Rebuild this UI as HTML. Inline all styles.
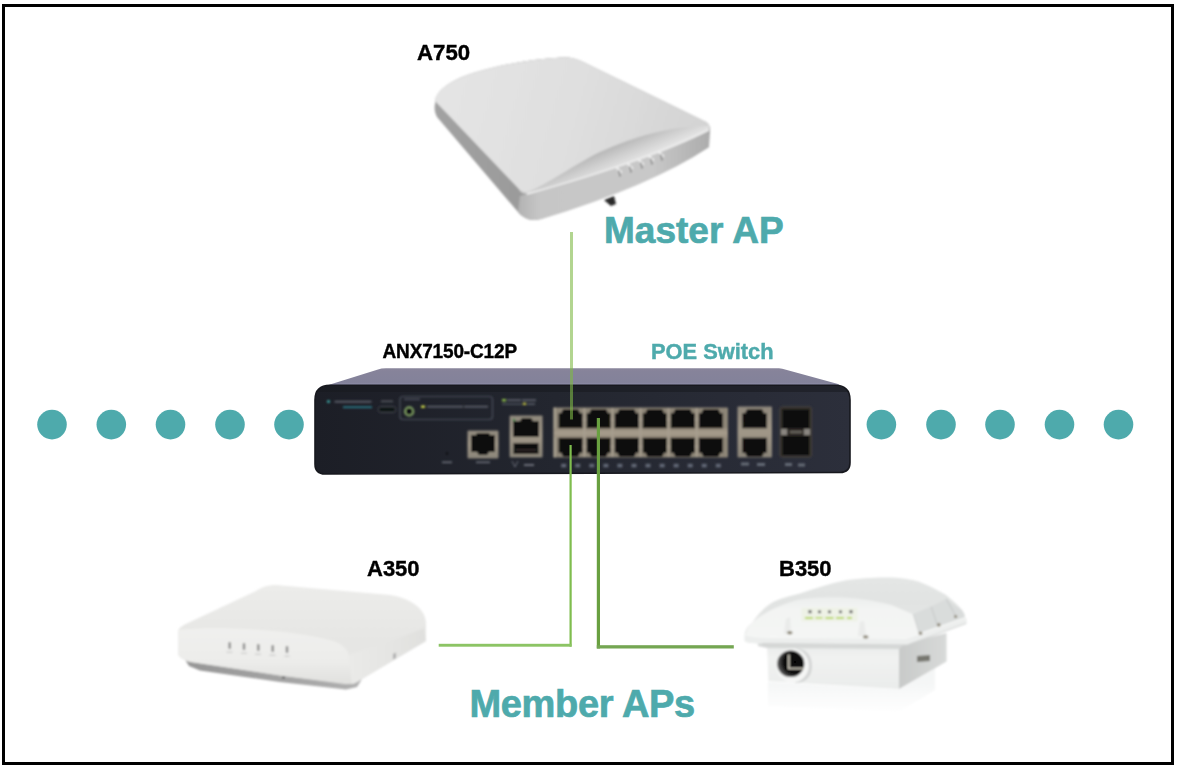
<!DOCTYPE html>
<html><head><meta charset="utf-8">
<style>
html,body{margin:0;padding:0;background:#fff;}
body{width:1180px;height:772px;position:relative;overflow:hidden;font-family:"Liberation Sans",sans-serif;}
#frame{position:absolute;left:2px;top:4px;width:1166px;height:755px;border:3px solid #000;}
svg{position:absolute;left:0;top:0;}
.lbl{position:absolute;font-weight:bold;white-space:nowrap;line-height:1;transform-origin:0 0;-webkit-text-stroke:0.4px #000;}
</style></head>
<body>
<div id="frame"></div>
<svg width="1180" height="772" viewBox="0 0 1180 772">
<defs>
  <linearGradient id="swTop" x1="0" y1="368" x2="0" y2="386" gradientUnits="userSpaceOnUse">
    <stop offset="0" stop-color="#8a869c"/><stop offset="0.2" stop-color="#86839a"/><stop offset="0.8" stop-color="#83829a"/><stop offset="0.92" stop-color="#8e8eaa"/><stop offset="1" stop-color="#4a4a5c"/>
  </linearGradient>
  <linearGradient id="swFront" x1="0" y1="0" x2="1" y2="0">
    <stop offset="0" stop-color="#1c1e26"/><stop offset="0.45" stop-color="#23262f"/><stop offset="1" stop-color="#2c2f3b"/>
  </linearGradient>
  <linearGradient id="silver" x1="0" y1="0" x2="0" y2="1">
    <stop offset="0" stop-color="#8f887c"/><stop offset="0.5" stop-color="#a09788"/><stop offset="1" stop-color="#8a8478"/>
  </linearGradient>
  <filter id="soft" x="-5%" y="-5%" width="110%" height="110%"><feGaussianBlur stdDeviation="0.85"/></filter>
  <linearGradient id="a7top" x1="450" y1="80" x2="700" y2="150" gradientUnits="userSpaceOnUse">
    <stop offset="0" stop-color="#e4e4e4"/><stop offset="0.5" stop-color="#dfdfdf"/><stop offset="1" stop-color="#d3d3d3"/>
  </linearGradient>
  <linearGradient id="a7side" x1="435" y1="0" x2="530" y2="0" gradientUnits="userSpaceOnUse">
    <stop offset="0" stop-color="#a2a2a2"/><stop offset="1" stop-color="#9a9a9a"/>
  </linearGradient>
  <linearGradient id="a7front" x1="520" y1="0" x2="710" y2="0" gradientUnits="userSpaceOnUse">
    <stop offset="0" stop-color="#b4b4b4"/><stop offset="0.1" stop-color="#c6c6c6"/><stop offset="0.7" stop-color="#c8c8c8"/><stop offset="1" stop-color="#acacac"/>
  </linearGradient>
  <linearGradient id="a7lip" x1="600" y1="148" x2="612" y2="176" gradientUnits="userSpaceOnUse">
    <stop offset="0" stop-color="#b0b0b0"/><stop offset="0.45" stop-color="#cdcdcd"/><stop offset="1" stop-color="#ededed"/>
  </linearGradient>
  <linearGradient id="a3base" x1="180" y1="0" x2="360" y2="0" gradientUnits="userSpaceOnUse">
    <stop offset="0" stop-color="#959595"/><stop offset="0.6" stop-color="#a4a4a4"/><stop offset="1" stop-color="#b0b0b0"/>
  </linearGradient>
  <linearGradient id="a3top" x1="0" y1="585" x2="0" y2="640" gradientUnits="userSpaceOnUse">
    <stop offset="0" stop-color="#ececea"/><stop offset="1" stop-color="#e6e6e4"/>
  </linearGradient>
  <linearGradient id="a3front" x1="0" y1="628" x2="0" y2="684" gradientUnits="userSpaceOnUse">
    <stop offset="0" stop-color="#f0f0ee"/><stop offset="0.6" stop-color="#ececea"/><stop offset="1" stop-color="#e0e0de"/>
  </linearGradient>
  <linearGradient id="a3right" x1="349" y1="0" x2="426" y2="0" gradientUnits="userSpaceOnUse">
    <stop offset="0" stop-color="#eaeae8"/><stop offset="1" stop-color="#e0e0de"/>
  </linearGradient>
  <linearGradient id="b3right" x1="899" y1="0" x2="947" y2="0" gradientUnits="userSpaceOnUse">
    <stop offset="0" stop-color="#c8cac9"/><stop offset="1" stop-color="#d8dad9"/>
  </linearGradient>
  <linearGradient id="b3dome" x1="0" y1="578" x2="0" y2="640" gradientUnits="userSpaceOnUse">
    <stop offset="0" stop-color="#e4e6e5"/><stop offset="0.4" stop-color="#e1e3e2"/><stop offset="1" stop-color="#e6e8e7"/>
  </linearGradient>
  <linearGradient id="b3front" x1="0" y1="645" x2="0" y2="688" gradientUnits="userSpaceOnUse">
    <stop offset="0" stop-color="#e9ebea"/><stop offset="0.3" stop-color="#f1f2f1"/><stop offset="1" stop-color="#eaeceb"/>
  </linearGradient>
  <radialGradient id="b3hole" cx="0.65" cy="0.45" r="0.6">
    <stop offset="0" stop-color="#050505"/><stop offset="0.7" stop-color="#101010"/><stop offset="1" stop-color="#555"/>
  </radialGradient>
  <linearGradient id="b3refl" x1="0" y1="682" x2="0" y2="714" gradientUnits="userSpaceOnUse">
    <stop offset="0" stop-color="#eef0f0"/><stop offset="1" stop-color="#ffffff"/>
  </linearGradient>
  <linearGradient id="b3bulge" x1="0" y1="597" x2="0" y2="637" gradientUnits="userSpaceOnUse">
    <stop offset="0" stop-color="#eceeed"/><stop offset="0.3" stop-color="#f3f4f3"/><stop offset="1" stop-color="#f4f5f4"/>
  </linearGradient>
</defs>
<!-- dots -->
<g fill="#4eaaac">
  <circle cx="52" cy="424.6" r="14.8"/><circle cx="111.3" cy="424.6" r="14.8"/><circle cx="170.5" cy="424.6" r="14.8"/><circle cx="230" cy="424.6" r="14.8"/><circle cx="289" cy="424.6" r="14.8"/>
  <circle cx="881.4" cy="424.6" r="14.8"/><circle cx="941" cy="424.6" r="14.8"/><circle cx="1000" cy="424.6" r="14.8"/><circle cx="1059.5" cy="424.6" r="14.8"/><circle cx="1118.5" cy="424.6" r="14.8"/>
</g>
<!-- switch -->
<g id="switchbase">
<path d="M386 368.3 L779 368.3 Q782 368.3 786 369.8 L838 384 L842 386.5 L326 386.5 L330 384.5 L378 369.6 Q381 368.3 386 368.3 Z" fill="url(#swTop)"/>
<path d="M330 385.3 L835 385.3 Q850 385.3 850 400 L850 462.5 Q850 472.5 840 472.5 L325 474 Q315 474 315 464 L315 400 Q315 385.3 330 385.3 Z" fill="url(#swFront)" stroke="#17181e" stroke-width="1.6"/>
<path d="M330 386 L835 386 Q846 386 848.5 392 L316.5 392 Q319 386 330 386 Z" fill="#18191f" opacity="0.55"/>
</g>
<g id="switch" filter="url(#soft)">
<circle cx="328.5" cy="401.5" r="1.6" fill="#3aa0a0"/>
<rect x="334.5" y="400.8" width="37" height="1.8" fill="#5d616c"/>
<rect x="343" y="406.3" width="29" height="1.8" fill="#2a7785"/>
<rect x="378" y="406.5" width="18" height="6" rx="3" fill="#111216" stroke="#44474f" stroke-width="1"/>
<rect x="381" y="400.5" width="12" height="1.6" fill="#55585f"/>
<rect x="400" y="396.5" width="92.5" height="23" rx="3" fill="none" stroke="#4a4e5a" stroke-width="1.2"/>
<rect x="404" y="398.5" width="16" height="1.6" fill="#4a4e5a"/>
<circle cx="409.2" cy="411.4" r="4.2" fill="#101114" stroke="#86a868" stroke-width="1.8"/>
<rect x="421" y="405.5" width="4" height="2.4" fill="#c8d24a"/>
<rect x="427" y="405.8" width="36" height="1.8" fill="#5b5f69"/>
<rect x="464" y="405.8" width="24" height="1.8" fill="#5b5f69"/>
<rect x="502" y="399" width="4" height="2.4" fill="#8ab84a"/><rect x="507" y="399.3" width="14" height="1.8" fill="#5b5f69"/><rect x="522" y="399.3" width="14" height="1.8" fill="#5b5f69"/>
<rect x="502" y="403.3" width="20" height="1.6" fill="#4b4f59"/><rect x="523" y="402.8" width="3" height="2.2" fill="#c8c84a"/><rect x="527" y="403.3" width="8" height="1.6" fill="#5b5f69"/>
<circle cx="447" cy="453.5" r="1" fill="#0c0d10"/>
<rect x="442" y="461.5" width="10" height="1.6" fill="#6a6e78"/>
<rect x="476" y="461.5" width="14" height="1.6" fill="#6a6e78"/>
<rect x="467.5" y="430.4" width="31" height="28" rx="1" fill="url(#silver)"/>
<g fill="#08080a"><path d="M471 435 L476 435 L477 433 L489 433 L490 435 L495 435 L495 452 L489 452 L487 455 L479 455 L477 452 L471 452 Z"/></g>
<rect x="509.6" y="415.5" width="33" height="42" rx="1" fill="url(#silver)"/>
<path d="M513 421 L520 421 L522 418 L531 418 L533 421 L539 421 L539 437 L513 437 Z" fill="#08080a"/>
<rect x="513.5" y="443" width="25" height="11" fill="#08080a"/>
<rect x="516" y="449" width="20" height="2" fill="#2a2825"/>
<circle cx="514" cy="420" r="1.2" fill="#3a8a4a"/>
<path d="M512 461 L515 467 L518 461" stroke="#6a6e78" stroke-width="1" fill="none"/>
<rect x="524" y="464" width="10" height="2" fill="#6a6e78"/>
<rect x="553.5" y="407.5" width="174.5" height="50" rx="1" fill="#8d8577"/>
<rect x="553.5" y="407.5" width="2.2" height="50" fill="#aaa292"/>
<rect x="554" y="428.3" width="173.5" height="9.4" fill="#9d9383"/>
<rect x="554" y="431.5" width="173.5" height="3" fill="#a89e8e" opacity="0.7"/>
<g fill="#070709">
<path d="M558.6 413.3 L561.1 413.3 L563.1 409.3 L578.1 409.3 L580.1 413.3 L582.6 413.3 L582.6 428.3 L558.6 428.3 Z"/>
<path d="M558.6 437.8 L582.6 437.8 L582.6 452.8 L580.1 452.8 L578.1 456.8 L563.1 456.8 L561.1 452.8 L558.6 452.8 Z"/>
<path d="M586.65 413.3 L589.15 413.3 L591.15 409.3 L606.15 409.3 L608.15 413.3 L610.65 413.3 L610.65 428.3 L586.65 428.3 Z"/>
<path d="M586.65 437.8 L610.65 437.8 L610.65 452.8 L608.15 452.8 L606.15 456.8 L591.15 456.8 L589.15 452.8 L586.65 452.8 Z"/>
<path d="M614.7 413.3 L617.2 413.3 L619.2 409.3 L634.2 409.3 L636.2 413.3 L638.7 413.3 L638.7 428.3 L614.7 428.3 Z"/>
<path d="M614.7 437.8 L638.7 437.8 L638.7 452.8 L636.2 452.8 L634.2 456.8 L619.2 456.8 L617.2 452.8 L614.7 452.8 Z"/>
<path d="M642.75 413.3 L645.25 413.3 L647.25 409.3 L662.25 409.3 L664.25 413.3 L666.75 413.3 L666.75 428.3 L642.75 428.3 Z"/>
<path d="M642.75 437.8 L666.75 437.8 L666.75 452.8 L664.25 452.8 L662.25 456.8 L647.25 456.8 L645.25 452.8 L642.75 452.8 Z"/>
<path d="M670.8000000000001 413.3 L673.3000000000001 413.3 L675.3000000000001 409.3 L690.3000000000001 409.3 L692.3000000000001 413.3 L694.8000000000001 413.3 L694.8000000000001 428.3 L670.8000000000001 428.3 Z"/>
<path d="M670.8000000000001 437.8 L694.8000000000001 437.8 L694.8000000000001 452.8 L692.3000000000001 452.8 L690.3000000000001 456.8 L675.3000000000001 456.8 L673.3000000000001 452.8 L670.8000000000001 452.8 Z"/>
<path d="M698.85 413.3 L701.35 413.3 L703.35 409.3 L718.35 409.3 L720.35 413.3 L722.85 413.3 L722.85 428.3 L698.85 428.3 Z"/>
<path d="M698.85 437.8 L722.85 437.8 L722.85 452.8 L720.35 452.8 L718.35 456.8 L703.35 456.8 L701.35 452.8 L698.85 452.8 Z"/>
</g>
<g fill="#a89f90">
<rect x="583.4" y="408" width="2" height="49"/>
<circle cx="584.4" cy="419.5" r="1.6"/>
<circle cx="584.4" cy="446.5" r="1.6"/>
<rect x="611.4" y="408" width="2" height="49"/>
<circle cx="612.4" cy="419.5" r="1.6"/>
<circle cx="612.4" cy="446.5" r="1.6"/>
<rect x="639.5" y="408" width="2" height="49"/>
<circle cx="640.5" cy="419.5" r="1.6"/>
<circle cx="640.5" cy="446.5" r="1.6"/>
<rect x="667.5" y="408" width="2" height="49"/>
<circle cx="668.5" cy="419.5" r="1.6"/>
<circle cx="668.5" cy="446.5" r="1.6"/>
<rect x="695.6" y="408" width="2" height="49"/>
<circle cx="696.6" cy="419.5" r="1.6"/>
<circle cx="696.6" cy="446.5" r="1.6"/>
</g>
<g fill="#626876">
<rect x="561.2" y="463.8" width="5" height="3.6" />
<rect x="575.2" y="463.8" width="5" height="3.6" />
<rect x="589.3" y="463.8" width="5" height="3.6" />
<rect x="603.4" y="463.8" width="5" height="3.6" />
<rect x="617.4" y="463.8" width="5" height="3.6" />
<rect x="631.5" y="463.8" width="5" height="3.6" />
<rect x="645.5" y="463.8" width="5" height="3.6" />
<rect x="659.6" y="463.8" width="5" height="3.6" />
<rect x="673.6" y="463.8" width="5" height="3.6" />
<rect x="687.7" y="463.8" width="5" height="3.6" />
<rect x="701.7" y="463.8" width="5" height="3.6" />
<rect x="715.8" y="463.8" width="5" height="3.6" />
</g>
<rect x="737.5" y="406.5" width="34.5" height="51" rx="1" fill="url(#silver)"/>
<g fill="#08080a"><path d="M742.3 413.3 L745.05 413.3 L747.05 409.3 L762.05 409.3 L764.05 413.3 L766.8 413.3 L766.8 428.3 L742.3 428.3 Z"/><path d="M742.3 437.8 L766.8 437.8 L766.8 452.8 L764.05 452.8 L762.05 456.8 L747.05 456.8 L745.05 452.8 L742.3 452.8 Z"/></g>
<rect x="741" y="462.5" width="8" height="3" fill="#656a76"/><rect x="757" y="463" width="8" height="3" fill="#656a76"/>
<rect x="780" y="407" width="31.5" height="50" rx="1.5" fill="#2e2b28" stroke="#4a4640" stroke-width="1"/>
<rect x="782.5" y="409.5" width="26.5" height="19" fill="#0e0c0b"/>
<rect x="782.5" y="436" width="26.5" height="19" fill="#0e0c0b"/>
<rect x="781" y="429" width="6" height="6" fill="#8a8680"/><rect x="804" y="429" width="6" height="6" fill="#8a8680"/><rect x="790" y="431" width="12" height="2" fill="#6a665f"/>
<rect x="785" y="463" width="7" height="3" fill="#656a76"/><rect x="798" y="463.5" width="7" height="3" fill="#656a76"/>
</g>
<!-- lines -->
<g>
  <rect x="570" y="232" width="3" height="187.5" fill="#7fb946" opacity="0.6"/>
  <rect x="569.5" y="445" width="2.2" height="201.7" fill="#7fbd4e"/>
  <rect x="438.7" y="643.8" width="132.8" height="2.9" fill="#8cc464"/>
  <rect x="596.8" y="418" width="3.2" height="230.5" fill="#69a040"/>
  <rect x="596.8" y="645.2" width="137" height="3.3" fill="#74a652"/>
</g>
<!-- A750 -->
<g id="a750" filter="url(#soft)">
  <path d="M435 104 C436 92 446 84 462 77 C492 66 530 59 562 57.5 C571 57 577 59 583 62 L704 121 C709 123 710 126 710 130 L709 147 Q650 186 541 219 C531 222 523 218 518 212 L437 117 C435 113 434 109 435 104 Z" fill="url(#a7side)"/>
  <path d="M527 194 Q650 160 709 130 L709 147 Q650 186 541 219 C531 222 523 218 518 212 L520 196 Z" fill="url(#a7front)"/>
  <path d="M435 101 C436 92 446 84 462 77 C492 66 530 59 562 57.5 C571 57 577 59 583 62 L704 121 C709 123 710 126 709 128 L709 130 Q650 160 527 194 C522 194 519 191 519 189 L437 103 Z" fill="url(#a7lip)"/>
  <path d="M435 101 C436 92 446 84 462 77 C492 66 530 59 562 57.5 C571 57 577 59 583 62 L704 121 C709 123 710 126 709 126 C675 125 635 136 600 152 C575 164 548 184 528 192 C524 193 521 191 519 189 L437 103 Z" fill="url(#a7top)"/>
  <path d="M527 194 Q650 160 709 130" stroke="#f6f6f6" stroke-width="1.4" fill="none"/>
  <g stroke="#f2f2f2" stroke-width="2" stroke-linecap="round">
    <path d="M617 168 L621 172"/><path d="M628 164 L632 168"/><path d="M639 160 L643 164"/><path d="M649 156 L653 160"/><path d="M659 152 L663 156"/>
  </g>
  <g stroke="#7a7a7a" stroke-width="1.3" stroke-linecap="round">
    <path d="M619 171 L620 176"/><path d="M630 167 L631 172"/><path d="M641 163 L642 168"/><path d="M651 159 L652 164"/><path d="M661 155 L662 160"/>
  </g>
  <path d="M604 200 L614 196 L616 204 L611 206 Z" fill="#2a2a2a"/>
</g>
<!-- A350 -->
<g id="a350" filter="url(#soft)">
  <path d="M181 653 L189 666 L200 670.5 L280 682 L346 689.5 L357 687 L362 679 L280 670 Z" fill="url(#a3base)"/>
  <path d="M178 632 C178 628 183 625 190 622 L256 591 C262 587 268 585 276 585 L390 595 C405 597 418 604 423 613 C425 617 426 620 426 624 L426 641 L357 682 C353 684 349 684 345 684 L280 675.5 L191 662 C183 660 178 657 178 653 Z" fill="url(#a3top)"/>
  <path d="M178 630 C215 626 290 629 333 641 C342 644 347 649 349 655 L352 684 L280 675.5 L191 662 C183 660 178 657 178 653 Z" fill="url(#a3front)"/>
  <path d="M349 655 C370 648 400 638 424 628 L426 641 L357 682 C355 683 353 684 352 684 Z" fill="url(#a3right)"/>
  <g fill="#8a8a8a">
    <rect x="228.5" y="642" width="2.4" height="7" rx="1"/><rect x="242.8" y="643" width="2.4" height="7" rx="1"/><rect x="257.1" y="644" width="2.4" height="7" rx="1"/><rect x="271.5" y="645" width="2.4" height="7" rx="1"/><rect x="285.8" y="646" width="2.4" height="7" rx="1"/>
  </g>
  <g fill="#d0d0d0">
    <rect x="226.5" y="651.5" width="6" height="1.4"/><rect x="241" y="652.5" width="6" height="1.4"/><rect x="255" y="653.5" width="6" height="1.4"/><rect x="269.5" y="654.5" width="6" height="1.4"/><rect x="284.5" y="655.5" width="5" height="1.4"/>
  </g>
  <circle cx="283.5" cy="677.5" r="1.1" fill="#333"/>
  <path d="M393 654 L396 652.5 L396 658 L393 659.5 Z" fill="#b0b0b0"/>
</g>
<!-- B350 -->
<g id="b350" filter="url(#soft)">
  <path d="M768 682 L899 689.5 L935 668 L935 690 L899 712 L768 706 Z" fill="url(#b3refl)" opacity="0.6"/>
  <!-- box -->
  <path d="M767 645 L899 645 L899 689 L768.5 681 Z" fill="url(#b3front)"/>
  <path d="M899 645 L946.5 633 L946.5 661.5 L899 689 Z" fill="url(#b3right)"/>
  <path d="M758 642 L906.8 642 L899 649 L767 648 L758 646 Z" fill="#d6d8d7"/>
  <path d="M917 656 L930 655 L930 661 L917 662 Z" fill="#77776f"/>
  <!-- connector -->
  <path d="M796 648.5 C808 649 812 657 812 666 C812 676 806 683 795 683 Z" fill="#c9cbca" opacity="0.7"/>
  <ellipse cx="792.4" cy="665.5" rx="16.5" ry="17" fill="#f5f6f5"/>
  <ellipse cx="790.7" cy="663.8" rx="13.6" ry="13.2" fill="url(#b3hole)"/>
  <path d="M788.8 654.5 L788.8 668.5 L803.5 668.5" stroke="#d6d2c4" stroke-width="1.6" fill="none"/>
  <!-- dome + lid -->
  <path d="M744.7 641 L744.7 634 C746 628 749 625 752 623 C758 614 764 608 770 604 C778 599 790 596 800 593.6 C815 588 830 583.7 845 580.5 C860 578 880 577 891.5 577.6 C905 578.5 915 580 922 583 C932 587 940 591.4 946 595 C952 600 958 605 961.7 609.7 C964 613 965 615 964.7 617.3 L966.3 618.8 L966.3 623.4 L906.8 645 L762 643.5 C752 643.5 746 642.5 744.7 641 Z" fill="url(#b3dome)"/>
  <path d="M912.9 614.2 L931.2 606.6 L946.4 599 C952 604 958 608 961.7 609.7 C964 613 965 615 964.7 617.3 L919 634 Z" fill="#d9dcdb"/>
  <path d="M912.9 614.2 L919 634" stroke="#c4c7c6" stroke-width="1.2"/>
  <path d="M931.2 606.6 L937.3 625" stroke="#c8cbca" stroke-width="1.2"/>
  <path d="M946.4 599 L955.6 615.8" stroke="#c8cbca" stroke-width="1.2"/>
  <path d="M745.5 637 C746 629 749 625 753 622 C763 613 783 603 800 599.5 C830 595 862 597 891.5 605 L912.9 614.2 L919 634 L906 638 L770 637 Z" fill="url(#b3bulge)"/>
  <!-- lip -->
  <path d="M744.7 634 C750 636 760 637 770 637 L906 638 L964.7 617.3 L966.3 618.8 L966.3 623.4 L906.8 645 L762 643.5 C752 643.5 746 642.5 744.7 641 Z" fill="#eceeed"/>
  <path d="M745 634.5 C752 636.5 760 637.5 770 637.5 L906 638.5 L965 618" stroke="#f8f9f8" stroke-width="1.2" fill="none"/>
  <path d="M762 643.5 L906.8 645 L966.3 623.4" stroke="#d2d4d3" stroke-width="1" fill="none"/>
  <!-- pillar shadows -->
  <path d="M784 634 L786 619 L790 617 L791 634 Z" fill="#e2e4e3" opacity="0.6"/>
  <path d="M858 636 L860 622 L864 621 L866 636 Z" fill="#e2e4e3" opacity="0.6"/>
  <!-- LED panel -->
  <rect x="801.5" y="607.8" width="56" height="13.6" fill="#eef2e6"/>
  <g fill="#5a5a5a"><rect x="808.5" y="610.2" width="3" height="3"/><rect x="818" y="610.6" width="3" height="2.5"/><rect x="828" y="610.6" width="3" height="2.5"/><rect x="839" y="610.6" width="3" height="2.5"/><rect x="849.5" y="610.2" width="3" height="3"/></g>
  <g fill="#b8d85a"><rect x="805" y="617" width="8" height="2"/><rect x="815.5" y="617" width="7" height="1.6"/><rect x="825.5" y="617" width="8" height="2"/><rect x="836" y="617" width="8" height="2"/><rect x="847" y="617" width="5" height="2"/></g>
  <!-- screws -->
  <g fill="#8e8878"><ellipse cx="789.8" cy="632.7" rx="2.8" ry="1.7"/><ellipse cx="865.7" cy="636.9" rx="2.8" ry="1.7"/><circle cx="920.5" cy="633.3" r="1.8"/><circle cx="938.8" cy="624.9" r="1.8"/><circle cx="955.6" cy="616.5" r="1.6"/></g>
</g>
</svg>
<div class="lbl" style="left:417px;top:41px;font-size:22px;transform:scale(1.01,1.03);">A750</div>
<div class="lbl" style="left:604px;top:212px;font-size:37px;color:#4eaaac;-webkit-text-stroke:0.7px #4eaaac;">Master AP</div>
<div class="lbl" style="left:382.5px;top:342px;font-size:19px;letter-spacing:-0.15px;transform:scale(1,1.03);">ANX7150-C12P</div>
<div class="lbl" style="left:650.5px;top:340px;font-size:21px;color:#4eaaac;-webkit-text-stroke:0.4px #4eaaac;transform:scale(1.04,1.04);">POE Switch</div>
<div class="lbl" style="left:367px;top:556.5px;font-size:22px;transform:scale(1.0,1.04);">A350</div>
<div class="lbl" style="left:779px;top:556.5px;font-size:22px;transform:scale(1.0,1.04);">B350</div>
<div class="lbl" style="left:469.5px;top:685px;font-size:38px;letter-spacing:-0.35px;color:#4eaaac;-webkit-text-stroke:0.7px #4eaaac;">Member APs</div>
</body></html>
